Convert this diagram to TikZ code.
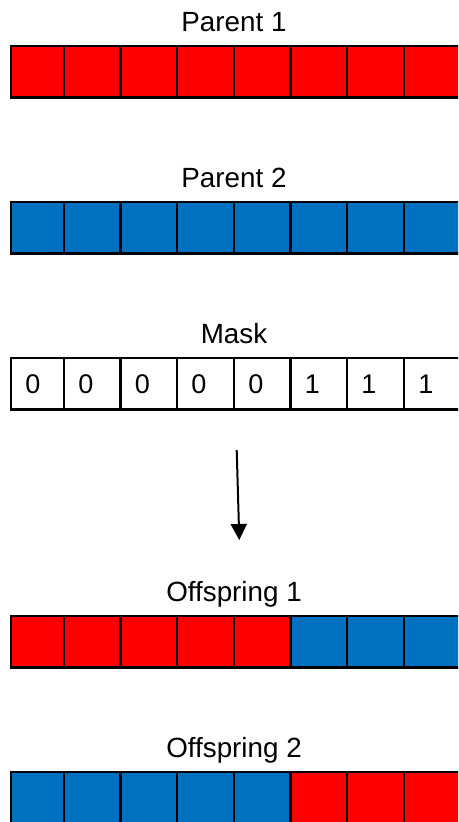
\documentclass[tikz,border=0pt]{standalone}
\usepackage{fontspec}
\setmainfont{Liberation Sans}
\usepackage{xcolor}
\usetikzlibrary{arrows.meta}
\definecolor{genred}{RGB}{255,0,0}
\definecolor{genblue}{RGB}{0,112,192}
% left/right edges of the eight genes
\def\genebounds{11/64,64/120.5,120.5/177,177/234,234/290.5,290.5/347,347/404,404/460.6}

\begin{document}
\begin{tikzpicture}[x=1pt, y=-1pt,
  cell/.style={draw=black, line width=2.5pt, minimum height=51.5pt, inner sep=0pt, outer sep=0pt},
  bit/.style={font=\fontsize{27}{30}\selectfont},
  title/.style={anchor=base, font=\fontsize{27.8}{32}\selectfont}]
\clip (0,0) rectangle (458,822);

% chromosomes
\foreach \l/\r [count=\i from 0] in \genebounds {
  \node[cell, minimum width={(\r-\l)*1pt}, fill=genred] (pa\i) at ({(\l+\r)/2},71.75) {};
  \node[cell, minimum width={(\r-\l)*1pt}, fill=genblue] (pb\i) at ({(\l+\r)/2},227.75) {};
  \node[cell, minimum width={(\r-\l)*1pt}, fill=white] (mk\i) at ({(\l+\r)/2},383.75) {};
  \ifnum\i<5 \def\ca{genred}\def\cb{genblue}\else\def\ca{genblue}\def\cb{genred}\fi
  \node[cell, minimum width={(\r-\l)*1pt}, fill=\ca] (oa\i) at ({(\l+\r)/2},641.75) {};
  \node[cell, minimum width={(\r-\l)*1pt}, fill=\cb] (ob\i) at ({(\l+\r)/2},797.75) {};
  \ifnum\i<5 \def\b{0}\else\def\b{1}\fi
  \node[bit] (bit\i) at (\l+22,384.5) {\b};
}

% labels
\node[title] (lpa) at (234,31.5) {Parent 1};
\node[title] (lpb) at (234,187.5) {Parent 2};
\node[title] (lmk) at (234,343.5) {Mask};
\node[title] (loa) at (234,601.5) {Offspring 1};
\node[title] (lob) at (234,757.5) {Offspring 2};

\coordinate (from) at (236.7,450);
\coordinate (to) at (239.3,540);
\draw[line width=2pt, -{Triangle[width=16pt,length=16pt]}] (from) -- (to);
\end{tikzpicture}
\end{document}
